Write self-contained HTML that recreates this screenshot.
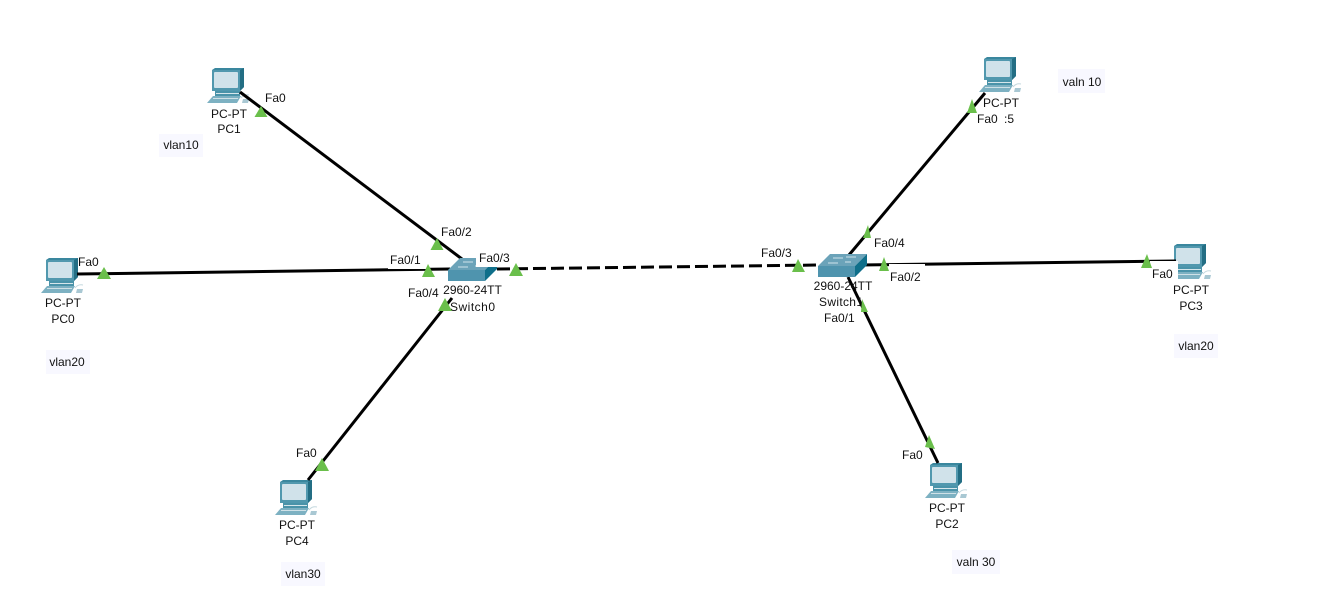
<!DOCTYPE html>
<html><head><meta charset="utf-8"><style>
html,body{margin:0;padding:0;background:#fff}
svg{display:block}
text{font-family:"Liberation Sans",sans-serif;font-size:12px;fill:#111}
.m{text-anchor:middle}
</style></head><body>
<svg width="1336" height="608" viewBox="0 0 1336 608" xmlns="http://www.w3.org/2000/svg">
<defs>
<g id="pc">
<polygon points="5,2 8,0 37,0 37,19 33,23 5,23" fill="#3a879e"/>
<polygon points="33,2 37,0 37,19 33,23" fill="#236e84"/>
<rect x="5" y="2" width="28" height="21" fill="#5198ae"/>
<rect x="7" y="4" width="24" height="16" rx="1" fill="#d0e2ea"/>
<polygon points="8,23 33,23 33,29 8,29" fill="#4a93a9"/>
<rect x="9" y="25" width="23" height="1" fill="#d6e6eb"/>
<polygon points="6,28 34,28 30,35 0,35" fill="#7db1c2"/>
<rect x="6" y="30" width="25" height="1" fill="#cfe1e7"/>
<path d="M34,30q3,-4 8,-3" stroke="#c4d8de" stroke-width="1" fill="none"/>
<polygon points="36,31 42,31 41,35 35,35" fill="#a9c8d3"/>
</g>
<g id="sw">
<polygon points="0,12 12,0 49,0 37,12" fill="#6ba3b9"/>
<rect x="0" y="12" width="37" height="11" fill="#4f94ae"/>
<polygon points="37,12 49,0 49,11 37,23" fill="#0f6f8a"/>
<path d="M15,4h10M28,3h10M10,9h10M27,8h6" stroke="#cfe3ea" stroke-width="1" fill="none"/>
</g>
</defs>

<g fill="#f8f8ff">
<rect x="159" y="134" width="44" height="23"/>
<rect x="1058" y="69" width="47" height="24"/>
<rect x="46" y="350" width="44" height="24"/>
<rect x="1174" y="334" width="44" height="24"/>
<rect x="281" y="562" width="44" height="24"/>
<rect x="952" y="550" width="48" height="24"/>
</g>

<use href="#pc" x="207" y="68"/>
<use href="#pc" x="979" y="57"/>
<use href="#pc" x="41" y="258"/>
<use href="#pc" x="275" y="480"/>
<use href="#pc" x="925" y="463"/>
<use href="#pc" x="1169" y="244"/>

<g stroke="#000" stroke-width="3" fill="none">
<line x1="240" y1="92" x2="462" y2="259"/>
<line x1="77" y1="274" x2="450" y2="269"/>
<line x1="308" y1="480" x2="452" y2="298"/>
<line x1="497" y1="269" x2="820" y2="265" stroke-dasharray="13 5"/>
<line x1="849" y1="255" x2="985" y2="93"/>
<line x1="860" y1="265" x2="1176" y2="261"/>
<line x1="848" y1="277" x2="938" y2="463"/>
</g>

<use href="#sw" x="448" y="258"/>
<use href="#sw" x="818" y="254"/>

<text class="m" x="229" y="118">PC-PT</text><text class="m" x="229" y="133">PC1</text>
<text class="m" x="1001" y="107">PC-PT</text>
<text class="m" x="63" y="307">PC-PT</text><text class="m" x="63" y="323">PC0</text>
<text class="m" x="297" y="529">PC-PT</text><text class="m" x="297" y="545">PC4</text>
<text class="m" x="947" y="512">PC-PT</text><text class="m" x="947" y="528">PC2</text>
<text class="m" x="1191" y="294">PC-PT</text><text class="m" x="1191" y="310">PC3</text>
<text class="m" x="472.500" y="294">2960-24TT</text><text x="450" y="311" textLength="45">Switch0</text>
<text class="m" x="843" y="290">2960-24TT</text><text x="819" y="306" textLength="44">Switch1</text>
<text class="m" x="181" y="149">vlan10</text>
<text class="m" x="1082" y="86">valn 10</text>
<text class="m" x="67" y="366">vlan20</text>
<text class="m" x="1196" y="350">vlan20</text>
<text class="m" x="303" y="578">vlan30</text>
<text class="m" x="976" y="566">valn 30</text>

<!-- white label backgrounds -->
<g fill="#fff">
<rect x="388" y="251" width="40" height="18"/>
<rect x="476" y="250" width="40" height="17"/>
<rect x="406" y="285" width="36" height="15"/>
<rect x="889" y="264" width="36" height="20"/>
<rect x="1150" y="261" width="28" height="19"/>
<rect x="976" y="112" width="26" height="15"/>
<rect x="823" y="306" width="36" height="19"/>
</g>

<g fill="#6abf4b">
<polygon points="261,106 267.500,117 254.500,117"/>
<polygon points="104,267 111,279 97,279"/>
<polygon points="437,238 443.500,250 430.500,250"/>
<polygon points="428,264 435,277 422,277"/>
<polygon points="516,263 523,276 509,276"/>
<polygon points="445,298 452,311 438,311"/>
<polygon points="322,458 329,471 315,471"/>
<polygon points="798,259 805,272 792,272"/>
<polygon points="868,225 871,238 863,238"/>
<polygon points="884,257 889,271 879,271"/>
<polygon points="862,299 868,312 861,312"/>
<polygon points="929,435 935,449 925,447"/>
<polygon points="972,99 977,113 967,113"/>
<polygon points="1147,254 1152,268 1141,268"/>
</g>

<text x="265" y="102">Fa0</text>
<text x="78" y="266">Fa0</text>
<text x="441" y="236">Fa0/2</text>
<text x="390" y="264">Fa0/1</text>
<text x="479" y="262">Fa0/3</text>
<text x="408" y="297">Fa0/4</text>
<text x="296" y="457">Fa0</text>
<text x="761" y="257">Fa0/3</text>
<text x="874" y="247">Fa0/4</text>
<text x="890" y="281">Fa0/2</text>
<text x="824" y="322">Fa0/1</text>
<text x="902" y="459">Fa0</text>
<text x="977" y="123">Fa0</text>
<text x="1004" y="123">:5</text>
<text x="1152" y="278">Fa0</text>
</svg>
</body></html>
